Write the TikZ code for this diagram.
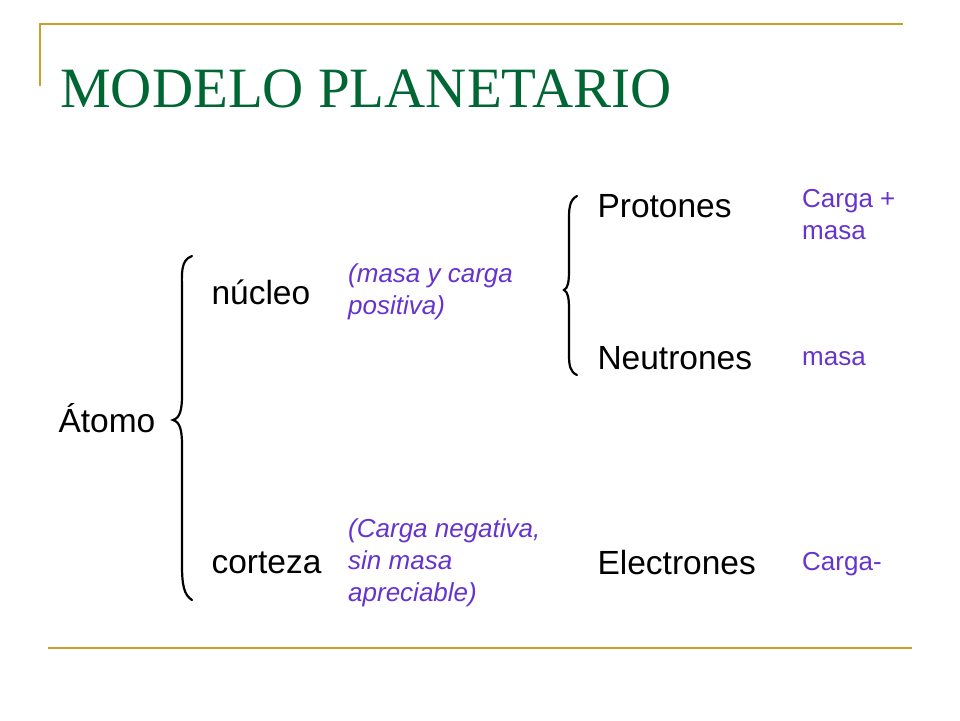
\documentclass[tikz,border=0pt]{standalone}
\usepackage{fontspec}
\setmainfont{Liberation Sans}
\newfontfamily\titlefont{Liberation Serif}
\definecolor{gold}{RGB}{204,160,40}
\definecolor{tgreen}{RGB}{0,102,51}
\definecolor{purp}{RGB}{102,51,204}
\begin{document}
\begin{tikzpicture}[x=1pt,y=-1pt,
  big/.style={anchor=west,font=\fontsize{33.5}{36}\selectfont},
  small/.style={anchor=north west,align=left,text=purp,font=\fontsize{26}{32}\selectfont,inner sep=0pt},
  smallit/.style={small,font=\itshape\fontsize{26}{32}\selectfont},
  brace/.style={line width=2.2pt,line cap=round}]
\useasboundingbox (0,0) rectangle (960,720);
\draw[gold,line width=2pt] (40,86) -- (40,24) -- (903,24);
\draw[gold,line width=2pt] (48,648) -- (912,648);
\node[anchor=base west,text=tgreen,font=\titlefont\fontsize{57}{60}\selectfont,inner sep=0pt] (title) at (60,107) {MODELO PLANETARIO};
\node[big] (atomo) at (55,418) {Átomo};
\node[big] (nucleo) at (208,292) {núcleo};
\node[big] (corteza) at (208,563) {corteza};
\node[big] (prot) at (594,206) {Protones};
\node[big] (neut) at (594,358) {Neutrones};
\node[big] (elec) at (594,563) {Electrones};
\node[smallit] (n1) at (348,263) {(masa y carga\\positiva)};
\node[smallit] (c1) at (348,518) {(Carga negativa,\\sin masa\\apreciable)};
\node[small] (p1) at (802,189) {Carga +\\masa};
\node[small] (ne1) at (802,351) {masa};
\node[small] (e1) at (802,552) {Carga-};
% big brace
\draw[brace] (192,256) .. controls (180,260) and (182,275) .. (182,290)
  -- (182,395) .. controls (182,410) and (180,418) .. (173,420)
  .. controls (180,422) and (182,430) .. (182,445)
  -- (182,565) .. controls (182,585) and (184,595) .. (192,600);
% small brace
\draw[brace] (577,196) .. controls (569,200) and (569,210) .. (569,220)
  -- (569,270) .. controls (569,282) and (568,288) .. (564,290)
  .. controls (568,292) and (569,298) .. (569,310)
  -- (569,355) .. controls (569,365) and (570,372) .. (577,375);
\end{tikzpicture}
\end{document}
